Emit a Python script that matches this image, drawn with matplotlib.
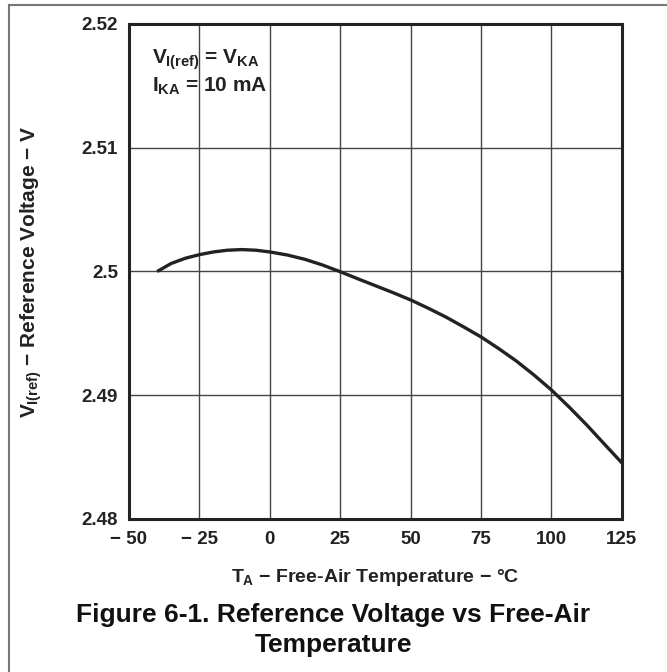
import matplotlib
matplotlib.use('Agg')
import matplotlib.pyplot as plt
from matplotlib.lines import Line2D

plt.rcParams['font.family'] = 'Liberation Sans'
plt.rcParams['font.weight'] = 'bold'
plt.rcParams['mathtext.fontset'] = 'custom'
plt.rcParams['mathtext.rm'] = 'Liberation Sans:bold'
plt.rcParams['mathtext.it'] = 'Liberation Sans:bold'
plt.rcParams['mathtext.bf'] = 'Liberation Sans:bold'

# curve
temp = [-40, -35, -30, -25, -20, -15, -10, -5, 0, 6.25, 12.5, 18.75, 25, 31.25, 37.5, 43.75,
        50, 56.25, 62.5, 68.75, 75, 81.25, 87.5, 93.75, 100, 106.25, 112.5, 118.75, 125]
vref = [2.5000, 2.50065, 2.50107, 2.50136, 2.50158, 2.50172, 2.50177, 2.50172, 2.50158,
        2.50133, 2.50098, 2.50052, 2.49998, 2.49941, 2.49885, 2.49829, 2.49770, 2.49703,
        2.49632, 2.49553, 2.49471, 2.49377, 2.49277, 2.49164, 2.49042, 2.48905, 2.48760,
        2.48606, 2.48453]

xticks = [-50, -25, 0, 25, 50, 75, 100, 125]
xlabels = ['\u2212 50', '\u2212 25', '0', '25', '50', '75', '100', '125']
yticks = [2.48, 2.49, 2.50, 2.51, 2.52]
ylabels = ['2.48', '2.49', '2.5', '2.51', '2.52']

fig = plt.figure(figsize=(6.67, 6.72), dpi=100)
ax = fig.add_axes([0.1934, 0.2277, 0.739, 0.7366])

ax.plot(temp, vref, color='#222222', lw=2.4, solid_capstyle='butt', zorder=3)

ax.set_xlim(-50, 125)
ax.set_ylim(2.48, 2.52)
ax.set_xticks(xticks)
ax.set_xticklabels(xlabels)
ax.set_yticks(yticks)
ax.set_yticklabels(ylabels)
ax.tick_params(length=0, labelsize=13.5, colors='#222222')
ax.tick_params(axis='x', pad=9)
ax.tick_params(axis='y', pad=8)
ax.grid(True, color='#444444', lw=1.0)
for s in ax.spines.values():
    s.set_linewidth(2.2)
    s.set_color('#222222')

ax.set_xlabel('$T_A$ \u2212 Free-Air Temperature \u2212 \u00b0C',
              fontsize=14, fontweight='bold', labelpad=13, color='#222222')
ax.set_ylabel('$V_{I(ref)}$ \u2212 Reference Voltage \u2212 V', fontsize=15,
              fontweight='bold', labelpad=27, color='#222222')

ax.text(0.047, 0.927, '$V_{I(ref)}$ = $V_{KA}$', transform=ax.transAxes,
        fontsize=15, fontweight='bold', color='#222222', va='center')
ax.text(0.047, 0.874, '$I_{KA}$ = 10 mA', transform=ax.transAxes,
        fontsize=15, fontweight='bold', color='#222222', va='center')

fig.text(0.5, 0.062, 'Figure 6-1. Reference Voltage vs Free-Air\nTemperature',
         ha='center', va='center', fontsize=19, fontweight='bold',
         linespacing=1.3, color='#111111')

# page frame (top and left rule)
fig.add_artist(Line2D([0.013, 1.0], [0.9925, 0.9925], transform=fig.transFigure,
                      color='#777777', lw=1.5))
fig.add_artist(Line2D([0.013, 0.013], [0.0, 0.9925], transform=fig.transFigure,
                      color='#777777', lw=1.5))

fig.savefig('out.png', dpi=100)
